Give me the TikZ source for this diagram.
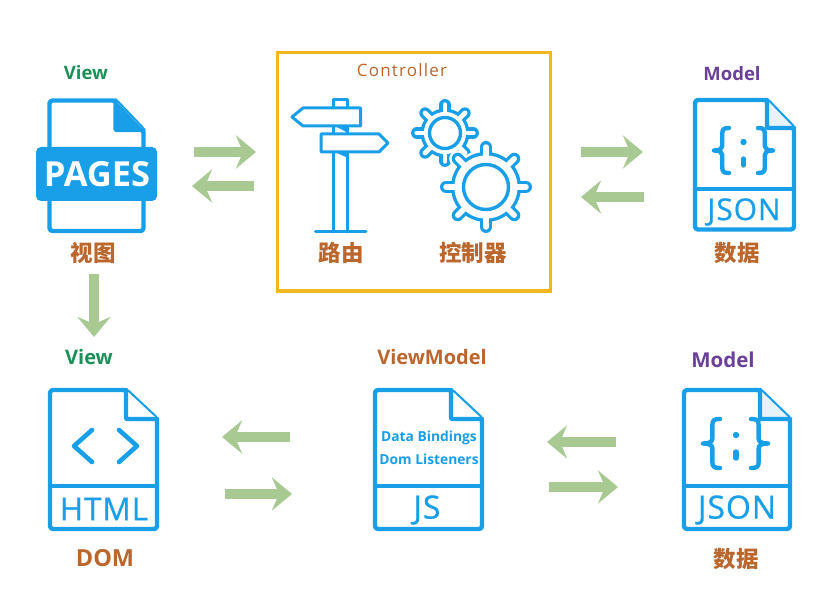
\documentclass[tikz,border=0pt]{standalone}
\usepackage{fontspec}
\setmainfont{Open Sans}
\newfontfamily\cjk{Noto Sans CJK SC}
\newfontfamily\spaced[LetterSpace=7]{Open Sans}
\newfontfamily\icontext[FakeBold=0.7,LetterSpace=3]{Open Sans}
\usetikzlibrary{arrows.meta}
\definecolor{iconblue}{HTML}{189FE8}
\definecolor{flowgreen}{HTML}{A8CA92}
\definecolor{boxgold}{HTML}{F2B71F}
\definecolor{viewgreen}{HTML}{1B9158}
\definecolor{modelpurple}{HTML}{6B4098}
\definecolor{labelbrown}{HTML}{BA662C}
\definecolor{foldtint}{HTML}{E6F3FB}
\tikzset{
  x=1pt, y=-1pt,
  outline/.style={draw=iconblue, line width=#1, line join=round, line cap=round},
  outline/.default=4.4,
  flow/.style={draw=flowgreen, line width=#1, -{Stealth[length=20pt,width=33pt,inset=7pt,fill=flowgreen]}},
  flow/.default=10,
  tag/.style={font=\fontsize{#1}{#1}\selectfont\bfseries, inner sep=0pt},
  cjktag/.style={font=\cjk\fontsize{22.5}{23}\selectfont\bfseries, text=labelbrown, inner sep=0pt},
  filetext/.style={font=\icontext\fontsize{#1}{#1}\selectfont, text=iconblue, inner sep=0pt},
}
% Sheet of paper with a folded corner; arguments are the centre line of its stroke:
% left, top, right, bottom, fold x, fold y, fold fill
\newcommand\sheet[7]{%
  \draw[outline, rounded corners=3pt, fill=white] (#1,#2) -- (#5,#2) -- (#3,#6) -- (#3,#4) -- (#1,#4) -- cycle;
  \draw[outline, rounded corners=1pt, fill=#7] (#5,#2) -- (#5,#6) -- (#3,#6);
}
% Curly bracket pair with the dotted i between them
\newcommand\bracepair[7]{% left tip x, right tip x, top, bottom, width, colon x, colon dot y
  \foreach \bx/\sx in {#1/1,#2/-1}{
    \begin{scope}[shift={(\bx,{(#3+#4)/2})}, xscale={-\sx*#5}, yscale={(#4-#3)/2}, x=1pt, y=1pt]
      \draw[outline=4.4] (-1,-1) .. controls (-.65,-1) and (-.55,-.95) .. (-.55,-.75) -- (-.55,-.2)
        .. controls (-.55,-.08) and (-.4,0) .. (0,0) .. controls (-.4,0) and (-.55,.08) .. (-.55,.2)
        -- (-.55,.75) .. controls (-.55,.95) and (-.65,1) .. (-1,1);
    \end{scope}
  }
  \fill[iconblue] (#6,#7) circle[radius=3.2pt];
  \draw[outline=5.4] (#6,{#7+17}) -- (#6,{#7+23});
}
% One layer of a gear silhouette: disc of radius #1, eight round-ended teeth
% of width #3 reaching to radius #2, in colour #4
\newcommand\gearlayer[4]{%
  \fill[#4] (0,0) circle[radius=#1 pt];
  \foreach \a in {0,45,...,315}{
    \draw[#4, line width=#3 pt, line cap=round] (0,0) -- (\a:#2);
  }
}
% Gear outline: outer body radius, tooth end radius, tooth width, hub radius
\newcommand\gearoutline[4]{%
  \pgfmathsetmacro\halo{#1+2.5}\pgfmathsetmacro\halow{#3+5}
  \gearlayer{\halo}{#2}{\halow}{white}
  \gearlayer{#1}{#2}{#3}{iconblue}
  \pgfmathsetmacro\innerb{#1-3.4}\pgfmathsetmacro\innert{#3-6.6}
  \gearlayer{\innerb}{#2}{\innert}{white}
  \draw[outline=3.4] (0,0) circle[radius=#4 pt];
}
\begin{document}
\begin{tikzpicture}
\useasboundingbox[fill=white] (0,0) rectangle (830,593);

% Upper row: page view
\sheet{49.5}{100.5}{143.5}{231}{115.5}{130}{white}
\fill[iconblue] (115.5,100.5) -- (143.5,130) -- (115.5,130) -- cycle;
\fill[iconblue, rounded corners=5pt] (36,147) rectangle (157,201);
\node[font=\fontsize{34.5}{35}\selectfont\bfseries, text=white, inner sep=0pt] (pages) at (97,174) {PAGES};
\node[tag=18.5, text=viewgreen] (viewtop) at (86,73) {View};
\node[cjktag] (viewcn) at (93,253) {视图};

% Upper row: controller box
\draw[boxgold, line width=3.4pt] (277.5,52.5) rectangle (550.5,291);
\node[font=\spaced\fontsize{17}{17}\selectfont, text=labelbrown, inner sep=0pt] (controller) at (402,70) {Controller};

% Signpost
\draw[outline=3] (333.5,126) -- (333.5,232) (347.5,126) -- (347.5,232);
\draw[outline=3] (333.5,108) -- (333.5,99.5) -- (347.5,99.5) -- (347.5,108);
\draw[outline=3] (315.5,232) -- (366,232);
\draw[outline=3, fill=white] (292,117) -- (303,108) -- (360.5,108) -- (360.5,126) -- (303,126) -- cycle;
\draw[outline=3, fill=white] (321,134) -- (379,134) -- (388,143) -- (379,152) -- (321,152) -- cycle;
\fill[iconblue] (335,126) -- (348,126) -- (348,133) -- cycle;
\fill[iconblue] (335,152) -- (348,152) -- (348,158) -- cycle;

% Gears
\begin{scope}[shift={(445,133)}]
  \gearoutline{24.5}{28.2}{11.5}{15.5}
\end{scope}
\begin{scope}[shift={(486,187)}]
  \gearoutline{35}{40}{12}{22.5}
\end{scope}
\node[cjktag] (routecn) at (341,253) {路由};
\node[cjktag] (ctrlcn) at (473,253) {控制器};

% Upper row: data model
\sheet{695}{100}{794}{229.5}{767}{128}{foldtint}
\draw[outline] (695,189) -- (794,189);
\bracepair{714}{773}{128}{173}{15}{743.5}{142}
\node[filetext=30] (jsontop) at (744,212) {JSON};
\node[tag=18.5, text=modelpurple] (modeltop) at (732,74) {Model};
\node[cjktag] (datatopcn) at (737,253) {数据};

% Lower row: DOM view
\sheet{50}{390}{157}{529}{126}{419}{white}
\draw[outline] (50,486) -- (157,486);
\draw[outline=4.6] (92,430) -- (74,446) -- (92,462);
\draw[outline=4.6] (119,430) -- (137,446) -- (119,462);
\node[filetext=31.5] (html) at (104,509) {HTML};
\node[tag=20, text=viewgreen] (viewlow) at (89,357) {View};
\node[tag=23.5, text=labelbrown] (dom) at (105,558) {DOM};

% Lower row: view model
\sheet{375}{390}{482}{529}{451}{419}{white}
\draw[outline] (375,486) -- (482,486);
\node[tag=13.8, text=iconblue] (bindings) at (429,438) {Data Bindings};
\node[tag=13.8, text=iconblue] (listeners) at (429,459) {Dom Listeners};
\node[filetext=32] (js) at (427,510) {JS};
\node[tag=20, text=labelbrown] (viewmodel) at (432,357) {ViewModel};

% Lower row: data model
\sheet{684}{390}{790}{529}{760}{419}{foldtint}
\draw[outline] (684,486) -- (790,486);
\bracepair{703}{768}{419}{468}{17}{736}{435}
\node[filetext=32] (jsonlow) at (737,510) {JSON};
\node[tag=20.5, text=modelpurple] (modellow) at (723,360) {Model};
\node[cjktag] (datalowcn) at (736,559) {数据};

% Flow arrows
\coordinate (a1) at (194,152); \coordinate (b1) at (256,152);
\coordinate (a2) at (254,186); \coordinate (b2) at (192,186);
\coordinate (a3) at (581,152); \coordinate (b3) at (643,152);
\coordinate (a4) at (644,197); \coordinate (b4) at (581,197);
\coordinate (a5) at (94,274);  \coordinate (b5) at (94,337);
\coordinate (a6) at (290,437); \coordinate (b6) at (222,437);
\coordinate (a7) at (225,494); \coordinate (b7) at (292,494);
\coordinate (a8) at (616,442); \coordinate (b8) at (547,442);
\coordinate (a9) at (549,487); \coordinate (b9) at (618,487);
\foreach \n in {1,...,9}{ \draw[flow] (a\n) -- (b\n); }
\end{tikzpicture}
\end{document}
